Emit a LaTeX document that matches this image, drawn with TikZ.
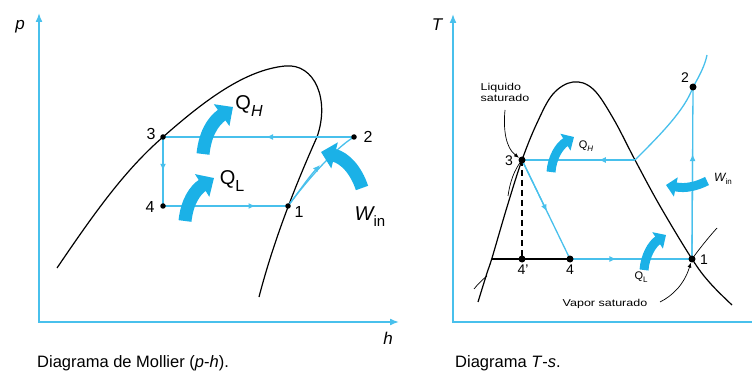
\documentclass[tikz,border=0pt]{standalone}
\usepackage{fontspec}
\setmainfont{Liberation Sans}
\newfontfamily\widesans[FakeStretch=1.25]{Liberation Sans}
\usetikzlibrary{arrows.meta,calc}
\definecolor{fatc}{RGB}{27,177,231}
\definecolor{linec}{RGB}{72,192,236}
\pgfdeclarelayer{bg}
\pgfsetlayers{bg,main}
\begin{document}
\begin{tikzpicture}[x=1pt,y=-1pt,
  axis/.style={linec,line width=1.6pt},
  cyc/.style={linec,line width=1.3pt},
  cyca/.style={linec,line width=1.3pt,-{Latex[length=7pt,width=6pt]}},
  dome/.style={black,line width=1.2pt},
  thinline/.style={black,line width=0.7pt},
  fatL/.style={fatc,line width=13pt,-{Triangle[length=14pt,width=26pt]}},
  fatR/.style={fatc,line width=9pt,-{Triangle[length=10pt,width=19pt]}},
  dotL/.style={circle,fill=black,inner sep=0pt,minimum size=5.5pt},
  dotR/.style={circle,fill=black,inner sep=0pt,minimum size=7pt},
  lblL/.style={font=\fontsize{16}{16}\selectfont,inner sep=0pt},
  lblR/.style={font=\fontsize{14}{14}\selectfont,inner sep=0pt},
  captext/.style={font=\fontsize{16.5}{16.5}\selectfont,inner sep=0pt,anchor=west},
  smalltxt/.style={font=\widesans\fontsize{10}{11}\selectfont,inner sep=0pt,align=left}
]
\useasboundingbox (0,0) rectangle (752,374);

% ================= Mollier diagram =================
\coordinate (Lpy) at (39,13);
\coordinate (Lo) at (39,322);
\coordinate (Lhx) at (399,322);
\draw[axis,{Latex[length=9pt,width=7pt]}-{Latex[length=9pt,width=7pt]}] (Lpy) -- (Lo) -- (Lhx);
\node[lblL,font=\fontsize{17}{17}\selectfont\itshape] (lp) at (20,27) {p};
\node[lblL,font=\fontsize{17}{17}\selectfont\itshape] (lh) at (388,338) {h};

\node[dotL] (L3) at (163,137) {};
\node[dotL] (L2) at (354,137) {};
\node[dotL] (L4) at (163,206) {};
\node[dotL] (L1) at (288,206) {};

\begin{pgfonlayer}{bg}
\draw[dome] (57,268) .. controls (95,212) and (125,170) .. (163,137)
  .. controls (205,100) and (245,70) .. (285,66)
  .. controls (315,63) and (330,100) .. (317,137)
  .. controls (300,175) and (275,235) .. (259,297);
\draw[cyc] (L2.center) -- (L3.center);
\draw[cyca] (L2.center) -- ($(L2.center)!0.46!(L3.center)$);
\draw[cyc] (L3.center) -- (L4.center);
\draw[cyca] (L3.center) -- ($(L3.center)!0.49!(L4.center)$);
\draw[cyc] (L4.center) -- (L1.center);
\draw[cyca] (L4.center) -- ($(L4.center)!0.74!(L1.center)$);
\draw[cyc] (L1.center) .. controls (305,183) and (335,148) .. (L2.center);
\draw[cyca] (L1.center) .. controls (298,193) and (308,178) .. (320,165);
\end{pgfonlayer}

\node[lblL] (t3) at (151,134) {3};
\node[lblL] (t2) at (368,137) {2};
\node[lblL] (t4) at (150,207) {4};
\node[lblL] (t1) at (299,212) {1};

\draw[fatL] (203,154) .. controls (205,135) and (212,122) .. (233,107);
\draw[fatL] (185,221) .. controls (187,202) and (195,190) .. (214,178);
\draw[fatL] (362,188) .. controls (356,170) and (345,158) .. (321,152);

\node[inner sep=0pt,font=\fontsize{20}{20}\selectfont] (QH) at (249,106) {Q\raisebox{-0.33em}{\fontsize{16}{16}\selectfont\itshape H}};
\node[inner sep=0pt,font=\fontsize{20}{20}\selectfont] (QL) at (232,181) {Q\raisebox{-0.33em}{\fontsize{16}{16}\selectfont L}};
\node[inner sep=0pt,font=\fontsize{20}{20}\selectfont] (Win) at (370,217) {\itshape W\raisebox{-0.3em}{\upshape\fontsize{15}{15}\selectfont in}};

\node[captext] (capL) at (37,363) {Diagrama de Mollier (\textit{p}-\textit{h}).};

% ================= T-s diagram =================
\coordinate (Rty) at (453,14);
\coordinate (Ro) at (453,322);
\coordinate (Rsx) at (760,322);
\draw[axis,{Latex[length=9pt,width=7pt]}-] (Rty) -- (Ro) -- (Rsx);
\node[lblL,font=\fontsize{17}{17}\selectfont\itshape] (lT) at (437,25) {T};

\node[dotR] (R3) at (522,160) {};
\node[dotR] (R2) at (693,87) {};
\node[dotR] (R1) at (692,259) {};
\node[dotR] (R4) at (570,259) {};
\node[dotR] (R4p) at (522,259) {};
\coordinate (Rk) at (635,160);
\coordinate (Rl) at (492,259);

\begin{pgfonlayer}{bg}
\draw[dome] plot[smooth,tension=0.6] coordinates {
 (478,302) (487,273) (492,258) (507,207) (522,160) (537,123) (553,94) (573,82)
 (593,89) (613,118) (635,160) (660,206) (692,259) (710,283) (732,305)};
\draw[dome] (Rl) -- (R4.center);
\draw[black,line width=1.1pt,dash pattern=on 6pt off 4pt] (R3.center) -- (R4p.center);
\draw[cyc] (Rk) -- (R3.center);
\draw[cyca] (Rk) -- ($(Rk)!0.32!(R3.center)$);
\draw[cyc] (R3.center) -- (R4.center);
\draw[cyca] (R3.center) -- ($(R3.center)!0.52!(R4.center)$);
\draw[cyc] (R4.center) -- (R1.center);
\draw[cyca] (R4.center) -- ($(R4.center)!0.38!(R1.center)$);
\draw[cyc] (R1.center) -- (R2.center);
\draw[cyca] (R1.center) -- ($(R1.center)!0.61!(R2.center)$);
\draw[cyc] (Rk) .. controls (660,135) and (685,110) .. (R2.center) .. controls (700,75) and (705,65) .. (707,55);
\draw[thinline] (508,196) .. controls (510,182) and (514,170) .. (R3.center);
\draw[thinline] (474,289) .. controls (478,284) and (482,280) .. (487,276);
\draw[thinline] (717,228) .. controls (708,238) and (700,248) .. (R1.center);
\end{pgfonlayer}

\node[smalltxt] (liq) at (505,92) {Liquido\\saturado};
\draw[thinline,-{Latex[length=5pt,width=4pt]}] (505,110) .. controls (503,130) and (506,148) .. (R3);
\node[smalltxt] (vap) at (605,304) {Vapor saturado};
\draw[thinline,-{Latex[length=5pt,width=4pt]}] (660,302) .. controls (672,296) and (684,285) .. (R1);

\node[lblR] (u3) at (509,161) {3};
\node[lblR] (u2) at (685,78) {2};
\node[lblR] (u1) at (704,260) {1};
\node[lblR] (u4) at (570,270) {4};
\node[lblR] (u4p) at (523,270) {4'};

\draw[fatR] (551,172) .. controls (552,158) and (559,146) .. (574,137);
\draw[fatR] (644,270) .. controls (645,256) and (652,244) .. (666,235);
\draw[fatR] (707,181) .. controls (697,186) and (686,189) .. (666,185);

\node[inner sep=0pt,font=\fontsize{11}{11}\selectfont] (QHr) at (586,146) {Q\raisebox{-0.33em}{\fontsize{8}{8}\selectfont\itshape H}};
\node[inner sep=0pt,font=\fontsize{11}{11}\selectfont] (QLr) at (641,277) {Q\raisebox{-0.33em}{\fontsize{8}{8}\selectfont L}};
\node[inner sep=0pt,font=\fontsize{12}{12}\selectfont] (Winr) at (723,179) {\itshape W\raisebox{-0.3em}{\upshape\fontsize{8}{8}\selectfont in}};

\node[captext] (capR) at (455,363) {Diagrama \textit{T}-\textit{s}.};
\end{tikzpicture}
\end{document}
